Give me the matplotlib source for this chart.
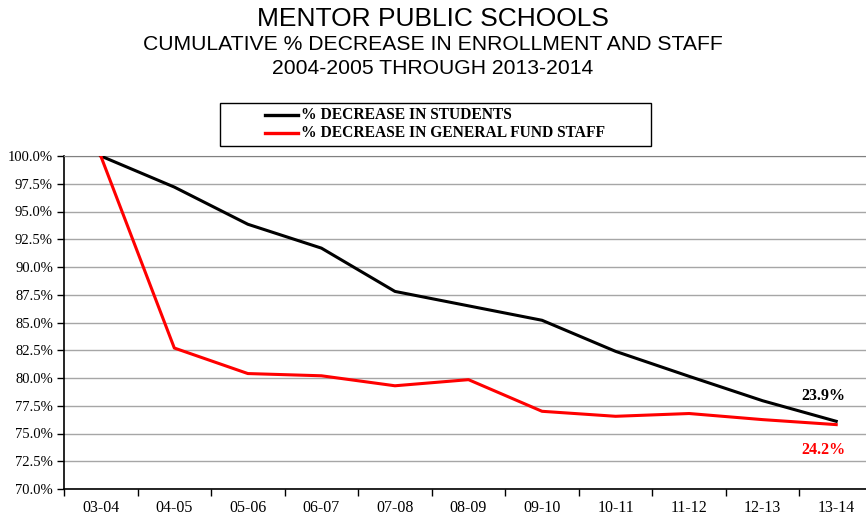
import matplotlib
matplotlib.use("Agg")
import matplotlib.pyplot as plt
from matplotlib.ticker import FuncFormatter, FixedLocator
from matplotlib.patches import Rectangle
from matplotlib.lines import Line2D
import numpy as np

categories = ["03-04", "04-05", "05-06", "06-07", "07-08", "08-09",
              "09-10", "10-11", "11-12", "12-13", "13-14"]
students = [100.0, 97.2, 93.85, 91.7, 87.8, 86.5, 85.2, 82.4, 80.15, 77.95, 76.1]
staff = [100.0, 82.7, 80.4, 80.2, 79.3, 79.85, 77.0, 76.55, 76.8, 76.25, 75.8]
student_label = "% DECREASE IN STUDENTS"
staff_label = "% DECREASE IN GENERAL FUND STAFF"
student_end = "23.9%"
staff_end = "24.2%"

W, H = 866, 516
fig = plt.figure(figsize=(W / 100, H / 100), dpi=100)
left, right, top, bottom = 64, 873, 156, 489
ax = fig.add_axes([left / W, 1 - bottom / H, (right - left) / W, (bottom - top) / H])

x = np.arange(len(categories))
ax.plot(x, students, color="black", lw=2.2, zorder=3)
ax.plot(x, staff, color="#ff0000", lw=2.2, zorder=3)

ax.set_xlim(-0.5, len(categories) - 0.5)
ax.set_ylim(70, 100)
ax.set_yticks(np.arange(70, 100.01, 2.5))
ax.yaxis.set_major_formatter(FuncFormatter(lambda v, p: f"{v:.1f}%"))
ax.yaxis.grid(True, color="#a6a6a6", lw=1.0)
ax.set_axisbelow(True)

ax.set_xticks(x)
ax.set_xticklabels(categories)
ax.xaxis.set_minor_locator(FixedLocator(np.arange(-0.5, len(categories), 1.0)))
ax.tick_params(axis="x", which="major", length=0, pad=8)
ax.tick_params(axis="x", which="minor", length=5, width=1, direction="out")
ax.tick_params(axis="y", length=5, width=1, direction="out", pad=3)

for lbl in ax.get_xticklabels():
    lbl.set_fontfamily("Liberation Serif")
    lbl.set_fontsize(11.5)
for lbl in ax.get_yticklabels():
    lbl.set_fontfamily("Liberation Serif")
    lbl.set_fontsize(10.5)

ax.spines["top"].set_color("#808080")
ax.spines["right"].set_visible(False)
ax.spines["left"].set_linewidth(1.2)
ax.spines["bottom"].set_linewidth(1.2)

ax.text(x[-1] - 0.18, 78.4, student_end, color="black", fontsize=11.5, fontweight="bold",
        family="Liberation Serif", ha="center", va="center")
ax.text(x[-1] - 0.18, 73.55, staff_end, color="#ff0000", fontsize=11.5, fontweight="bold",
        family="Liberation Serif", ha="center", va="center")

fig.text(0.5, 1 - 19 / H, "MENTOR PUBLIC SCHOOLS", ha="center", va="center",
         family="Liberation Sans", fontsize=19)
fig.text(0.5, 1 - 45 / H, "CUMULATIVE % DECREASE IN ENROLLMENT AND STAFF", ha="center", va="center",
         family="Liberation Sans", fontsize=15.2)
fig.text(0.5, 1 - 69 / H, "2004-2005 THROUGH 2013-2014", ha="center", va="center",
         family="Liberation Sans", fontsize=15.2)

# legend box drawn in figure pixel coordinates
def fx(px):
    return px / W

def fy(py):
    return 1 - py / H

fig.patches.append(Rectangle((fx(220), fy(146)), fx(651) - fx(220), fy(103) - fy(146),
                             transform=fig.transFigure, fill=False, edgecolor="black",
                             lw=1.0))
for py, col, lab in [(115, "black", student_label), (133, "#ff0000", staff_label)]:
    fig.lines.append(Line2D([fx(265), fx(298)], [fy(py), fy(py)], color=col, lw=2.4,
                            transform=fig.transFigure))
    fig.text(fx(301), fy(py), lab, ha="left", va="center", family="Liberation Serif",
             fontweight="bold", fontsize=11.2)

fig.savefig("out.png", dpi=100)
